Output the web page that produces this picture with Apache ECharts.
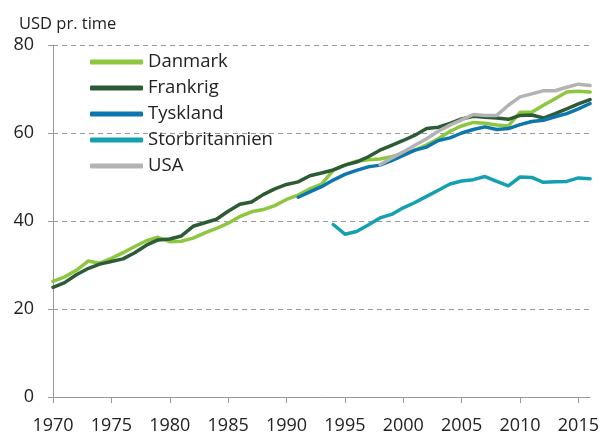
<!DOCTYPE html>
<html>
<head>
<meta charset="utf-8">
<script src="https://cdn.jsdelivr.net/npm/echarts@6/dist/echarts.min.js"></script>
<style>
html,body{margin:0;padding:0;background:#fff;}
#c{width:602px;height:435px;}
</style>
</head>
<body>
<div id="c"></div>
<script>
const years = [];
for (let y = 1970; y <= 2016; y++) years.push(String(y));

const yTicks = [0, 20, 40, 60, 80];
const unitLabel = 'USD pr. time';
const seriesNames = ['Danmark', 'Frankrig', 'Tyskland', 'Storbritannien', 'USA'];

const danmark = [26.3, 27.3, 28.8, 30.9, 30.4, 31.5, 32.8, 34.2, 35.5, 36.3,
  35.3, 35.4, 36.1, 37.3, 38.3, 39.5, 41.0, 42.1, 42.6, 43.5,
  44.9, 45.9, 47.3, 48.4, 51.5, 52.7, 53.6, 53.9, 54.1, 54.6,
  55.3, 56.1, 57.3, 58.7, 60.4, 61.6, 62.4, 62.2, 61.8, 61.6,
  64.7, 64.7, 66.3, 67.8, 69.3, 69.5, 69.3];

const frankrig = [24.9, 26.0, 27.8, 29.2, 30.2, 30.8, 31.4, 32.8, 34.5, 35.7,
  35.9, 36.6, 38.8, 39.6, 40.4, 42.2, 43.8, 44.3, 46.0, 47.3,
  48.3, 48.9, 50.3, 50.9, 51.6, 52.7, 53.4, 54.6, 56.1, 57.2,
  58.3, 59.5, 61.0, 61.3, 62.2, 63.2, 63.8, 63.6, 63.4, 63.1,
  64.0, 64.1, 63.4, 64.4, 65.5, 66.6, 67.6];

const tyskland = [null, null, null, null, null, null, null, null, null, null,
  null, null, null, null, null, null, null, null, null, null,
  null, 45.4, 46.6, 47.8, 49.3, 50.6, 51.5, 52.3, 52.7, 53.7,
  54.9, 56.1, 56.8, 58.3, 58.9, 60.0, 60.8, 61.4, 60.8, 61.0,
  61.9, 62.6, 62.9, 63.7, 64.4, 65.5, 66.7];

const storbritannien = [null, null, null, null, null, null, null, null, null, null,
  null, null, null, null, null, null, null, null, null, null,
  null, null, null, null, 39.2, 37.0, 37.6, 39.1, 40.7, 41.5,
  43.0, 44.2, 45.6, 47.0, 48.4, 49.1, 49.4, 50.1, 49.0, 48.0,
  50.0, 49.9, 48.8, 48.9, 49.0, 49.8, 49.6];

const usa = [null, null, null, null, null, null, null, null, null, null,
  null, null, null, null, null, null, null, null, null, null,
  null, null, null, null, null, null, null, null, 52.8, 54.3,
  55.7, 57.2, 58.7, 60.4, 61.8, 63.0, 64.2, 64.0, 64.0, 66.3,
  68.2, 68.9, 69.6, 69.6, 70.4, 71.1, 70.8];

const colors = ['#8dc63f', '#2d5b36', '#0e76ae', '#14a0b1', '#b3b3b3'];
const seriesData = [danmark, frankrig, tyskland, storbritannien, usa];

const FONT = '"Open Sans", "Noto Sans", sans-serif';
const chart = echarts.init(document.getElementById('c'), null, {renderer: 'canvas'});

chart.setOption({
  animation: false,
  backgroundColor: '#ffffff',
  textStyle: {fontFamily: FONT},
  title: {
    text: unitLabel,
    left: 14, top: 11,
    textStyle: {fontFamily: FONT, fontSize: 16.5, fontWeight: 'normal', color: '#222'}
  },
  legend: {
    data: seriesNames,
    orient: 'vertical',
    left: 85, top: 47,
    itemWidth: 53, itemHeight: 5,
    itemGap: 6,
    icon: 'roundRect',
    textStyle: {fontFamily: FONT, fontSize: 18.5, color: '#222', lineHeight: 20}
  },
  grid: {left: 53, right: 11, top: 45, bottom: 36, containLabel: false},
  xAxis: {
    type: 'category',
    data: years,
    boundaryGap: false,
    axisLine: {lineStyle: {color: '#999', width: 1}},
    axisTick: {show: true, length: 6, lineStyle: {color: '#999'},
      interval: function (i) { return i % 5 === 0; }},
    axisLabel: {fontFamily: FONT, fontSize: 18, color: '#222', margin: 20,
      interval: function (i) { return i % 5 === 0; }},
    splitLine: {show: false}
  },
  yAxis: {
    type: 'value',
    min: yTicks[0], max: yTicks[yTicks.length - 1], interval: 20,
    axisLine: {show: true, lineStyle: {color: '#999', width: 1}},
    axisTick: {show: true, length: 5, lineStyle: {color: '#999'}},
    axisLabel: {fontFamily: FONT, fontSize: 18, color: '#222', margin: 19},
    splitLine: {show: true, lineStyle: {color: '#999', type: [5, 4], width: 1}}
  },
  series: seriesNames.map((n, i) => ({
    name: n,
    type: 'line',
    data: seriesData[i],
    showSymbol: false,
    symbol: 'none',
    smooth: false,
    connectNulls: false,
    color: colors[i],
    lineStyle: {color: colors[i], width: 3.5, cap: 'round', join: 'round'}
  }))
});
</script>
</body>
</html>
